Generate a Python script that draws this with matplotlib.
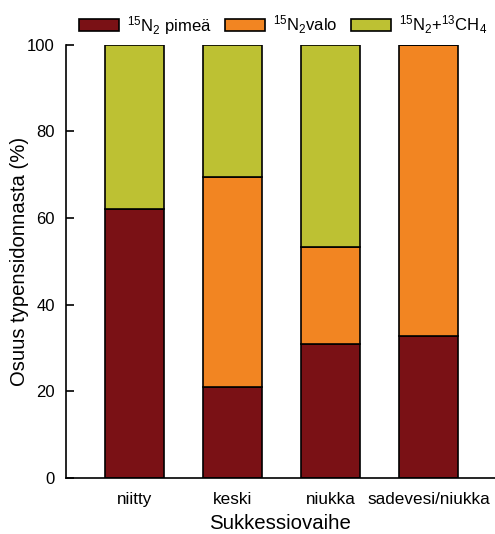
import matplotlib
matplotlib.use("Agg")
from matplotlib import pyplot as plt
import numpy as np

plt.rcParams['font.family'] = ['Liberation Sans', 'DejaVu Sans']
plt.rcParams['mathtext.fontset'] = 'custom'
plt.rcParams['mathtext.rm'] = 'Liberation Sans'
plt.rcParams['mathtext.it'] = 'Liberation Sans:italic'

categories = ["niitty", "keski", "niukka", "sadevesi/niukka"]
pimea = [62.2, 20.9, 31.0, 32.7]
valo = [0.0, 48.7, 22.3, 67.3]
metaani = [37.8, 30.4, 46.7, 0.0]

labels = [r"$^{15}\mathrm{N}_2$ pimeä", r"$^{15}\mathrm{N}_2$valo",
          r"$^{15}\mathrm{N}_2\mathrm{+}^{13}\mathrm{CH}_4$"]
colors = ["#7a1115", "#f28522", "#bdc133"]

fig = plt.figure(figsize=(4.95, 5.34), dpi=100)
ax = fig.add_axes([0.133, 0.105, 0.867, 0.811])

x = np.arange(len(categories))
w = 0.6
b1 = ax.bar(x, pimea, w, color=colors[0], edgecolor="black", linewidth=1.2, label=labels[0])
b2 = ax.bar(x, valo, w, bottom=pimea, color=colors[1], edgecolor="black", linewidth=1.2, label=labels[1])
bottom2 = np.array(pimea) + np.array(valo)
b3 = ax.bar(x, metaani, w, bottom=bottom2, color=colors[2], edgecolor="black", linewidth=1.2, label=labels[2])

ax.set_xlim(-0.7, 3.68)
ax.set_ylim(0, 100)
ax.set_yticks([0, 20, 40, 60, 80, 100])
ax.set_xticks(x)
ax.set_xticklabels(categories)
ax.tick_params(axis="y", direction="in", length=6, width=1.2, labelsize=12, pad=8)
ax.tick_params(axis="x", length=0, labelsize=12.3, pad=10)
ax.spines["top"].set_visible(False)
ax.spines["right"].set_visible(False)
ax.spines["left"].set_linewidth(1.2)
ax.spines["bottom"].set_linewidth(1.2)
ax.set_xlabel("Sukkessiovaihe", fontsize=14.7, labelpad=5)
ax.set_ylabel("Osuus typensidonnasta (%)", fontsize=14.6)
ax.yaxis.set_label_coords(-0.086, 0.5)

fig.legend(handles=[b1, b2, b3], labels=labels, loc="center", ncol=3,
           bbox_to_anchor=(0.572, 0.953), frameon=False, fontsize=12,
           handlelength=2.4, handleheight=0.75, columnspacing=0.8, handletextpad=0.5)

fig.savefig("out.png", dpi=100)
